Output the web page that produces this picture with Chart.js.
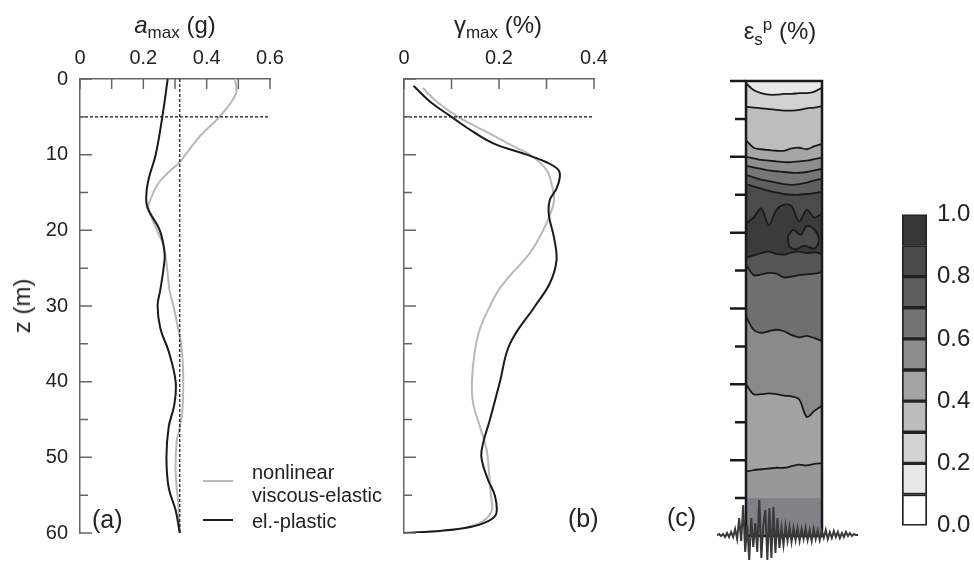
<!DOCTYPE html>
<html>
<head>
<meta charset="utf-8">
<script src="https://cdn.jsdelivr.net/npm/chart.js@4/dist/chart.umd.min.js"></script>
<style>
  body { margin: 0; background: #fff; }
  #wrap { position: relative; width: 974px; height: 561px; overflow: hidden;
          font-family: "Liberation Sans", Arial, sans-serif; color: #222; }
  #wrap canvas { position: absolute; }
  .txt { position: absolute; white-space: nowrap; line-height: 1; }
  .title { font-size: 24px; transform: translate(-50%, -50%); }
  .title sub, .title sup { font-size: 17px; }
  .lbl { font-size: 25px; transform: translateY(-50%); }
  .leg { font-size: 20px; transform: translateY(-50%); }
  .swatch { position: absolute; width: 30px; height: 0; border-top: 2px solid; }
</style>
</head>
<body>
<div id="wrap">
  <canvas id="chartA" width="300" height="561" style="left:0;top:0"></canvas>
  <canvas id="chartB" width="290" height="561" style="left:330px;top:0"></canvas>
  <canvas id="chartC" width="150" height="561" style="left:700px;top:0"></canvas>
  <canvas id="chartD" width="141" height="61" style="left:717px;top:500px"></canvas>
  <canvas id="chartE" width="94" height="360" style="left:880px;top:190px"></canvas>

  <div class="txt title" style="left:175px;top:27px"><i>a</i><sub>max</sub> (g)</div>
  <div class="txt title" style="left:498px;top:27px">γ<sub>max</sub> (%)</div>
  <div class="txt title" style="left:780px;top:32px">ε<sub>s</sub><sup>p</sup> (%)</div>
  <div class="txt title" style="left:22px;top:306px;transform:translate(-50%,-50%) rotate(-90deg)">z (m)</div>

  <div class="txt lbl" style="left:92px;top:519px">(a)</div>
  <div class="txt lbl" style="left:568px;top:518px">(b)</div>
  <div class="txt lbl" style="left:667px;top:517px">(c)</div>

  <div class="swatch" style="left:203px;top:480px;border-color:#b8b8b8"></div>
  <div class="swatch" style="left:203px;top:519px;border-color:#1a1a1a"></div>
  <div class="txt leg" style="left:252px;top:472px">nonlinear</div>
  <div class="txt leg" style="left:252px;top:495px">viscous-elastic</div>
  <div class="txt leg" style="left:252px;top:521px">el.-plastic</div>
</div>
<script>
// ---- depth axis ----
const depthTicks = [0, 5, 10, 15, 20, 25, 30, 35, 40, 45, 50, 55, 60];
const refDepth = 5;          // horizontal dashed line
const refAmax = 0.315;       // vertical dashed line in (a)

// ---- (a) peak acceleration ----
const amaxTicks = [0, 0.1, 0.2, 0.3, 0.4, 0.5, 0.6];
const depthNonlinearA = [0, 2, 5, 7.5, 10, 11, 12.5, 14, 16, 17, 20, 22, 25, 28, 30, 33, 36, 40, 44, 46, 48, 52, 56, 60];
const amaxNonlinear   = [0.49, 0.492, 0.44, 0.38, 0.333, 0.315, 0.275, 0.244, 0.222, 0.216, 0.243, 0.264, 0.275, 0.283, 0.295, 0.31, 0.322, 0.326, 0.323, 0.315, 0.305, 0.302, 0.31, 0.315];
const depthPlasticA = [0, 5, 10, 13, 15, 17, 20, 23, 25, 28, 30, 33, 36, 40, 43, 46, 50, 54, 57, 60];
const amaxPlastic   = [0.277, 0.26, 0.239, 0.218, 0.21, 0.213, 0.252, 0.267, 0.264, 0.253, 0.245, 0.254, 0.28, 0.302, 0.298, 0.28, 0.273, 0.28, 0.302, 0.315];

// ---- (b) peak shear strain ----
const gammaTicks = [0, 0.1, 0.2, 0.3, 0.4];
const depthNonlinearB = [1.2, 3, 5, 7, 9, 10, 12, 14, 16, 18, 20, 23, 26, 28, 30, 33, 36, 40, 43, 46, 49, 52, 55, 57, 58.5, 59.3];
const gammaNonlinear  = [0.04, 0.069, 0.114, 0.174, 0.234, 0.265, 0.30, 0.311, 0.316, 0.307, 0.293, 0.265, 0.223, 0.198, 0.181, 0.16, 0.149, 0.143, 0.146, 0.16, 0.174, 0.179, 0.183, 0.185, 0.165, 0.13];
const depthPlasticB = [0.9, 3, 5, 7, 8.5, 10, 11, 12, 13, 14.5, 16, 18, 21, 24, 27, 30, 35, 40, 45, 48, 50, 53, 55, 57.5, 58.5, 59.2, 59.7, 60];
const gammaPlastic  = [0.02, 0.055, 0.10, 0.146, 0.188, 0.258, 0.30, 0.325, 0.328, 0.321, 0.307, 0.305, 0.316, 0.321, 0.307, 0.276, 0.223, 0.202, 0.181, 0.167, 0.163, 0.177, 0.191, 0.194, 0.175, 0.14, 0.08, 0.0];

// ---- (c) plastic strain contours: depth of each contour across the column ----
const colX = [0, 0.1, 0.2, 0.3, 0.4, 0.5, 0.6, 0.7, 0.8, 0.9, 1];
const contourDepths = [
  [0, 0, 0, 0, 0, 0, 0, 0, 0, 0, 0],
  [0.3, 1.2, 1.6, 1.8, 1.8, 1.7, 1.7, 1.6, 1.6, 1.4, 0.9],
  [3.4, 3.5, 3.6, 3.7, 3.8, 3.9, 3.9, 3.8, 3.6, 3.5, 3.3],
  [7.8, 8.8, 9.0, 9.1, 9.2, 9.2, 8.9, 8.8, 9.0, 8.6, 8.3],
  [10.0, 10.2, 10.4, 10.5, 10.6, 10.7, 10.7, 10.6, 10.5, 10.3, 10.1],
  [11.2, 11.4, 11.6, 11.8, 11.9, 12.0, 12.1, 12.1, 12.0, 11.8, 11.6],
  [12.4, 12.7, 13.0, 13.2, 13.4, 13.6, 13.7, 13.6, 13.4, 13.1, 12.9],
  [13.6, 13.9, 14.2, 14.5, 14.7, 14.9, 15.0, 15.0, 14.9, 14.8, 14.6],
  [18.8, 18.0, 16.8, 19.0, 17.0, 16.3, 16.5, 18.5, 17.0, 18.0, 17.5],
  [23.3, 23.0, 22.7, 22.5, 22.8, 22.9, 22.6, 22.5, 22.7, 22.6, 22.8],
  [24.2, 25.6, 25.5, 25.3, 25.4, 25.9, 25.8, 25.6, 25.5, 25.4, 25.2],
  [31.0, 32.8, 33.2, 33.0, 32.8, 33.0, 33.5, 33.8, 33.6, 33.9, 34.3],
  [40.0, 41.3, 41.3, 41.2, 41.3, 41.5, 41.6, 42.0, 44.3, 43.5, 42.8],
  [51.5, 51.3, 51.2, 51.1, 51.0, 51.0, 50.8, 50.6, 50.7, 50.5, 50.4],
  [55, 55, 55, 55, 55, 55, 55, 55, 55, 55, 55],
  [60, 60, 60, 60, 60, 60, 60, 60, 60, 60, 60]
];
const bandColors = [null, '#e8e8e8', '#d2d2d2', '#bdbdbd', '#a6a6a6', '#8e8e8e', '#767676', '#5f5f5f',
  '#4b4b4b', '#3b3b3b', '#555555', '#6f6f6f', '#8a8a8a', '#a3a3a3', '#989898', '#7f8388'];
const drawnContour = [false, true, true, true, true, true, true, true, true, true, true, true, true, true, false, false];
const blobX = [0.55, 0.62, 0.72, 0.8, 0.9, 0.96, 0.9, 0.76, 0.66, 0.57, 0.55];
const blobZ = [20.5, 19.6, 20.3, 19.1, 19.6, 21.0, 22.1, 21.7, 22.2, 21.8, 20.5];

// ---- input motion trace under the column ----
const seismo = [0, 1, -1, 1, -2, 2, -2, 3, -2, 6, -4, 17, -6, 30, -17, 10, -25, 17, -12, 12, -17, 38, -23, 10,
  25, -25, 27, -23, 28, -18, 17, -13, 7, -10, 9, -6, 8, -7, 7, -5, 7, -6, 6, -4, 7, -5, 5, -6, 6, -4,
  5, -5, 4, -3, 5, -4, 3, -3, 4, -2, 3, -3, 2, -2, 3, -1, 2, -1, 1, 0, 0];

// ---- colour scale ----
const cbarLevels = [0, 0.1, 0.2, 0.3, 0.4, 0.5, 0.6, 0.7, 0.8, 0.9];
const cbarColors = ['#ffffff', '#e8e8e8', '#d2d2d2', '#bcbcbc', '#a4a4a4', '#8c8c8c', '#747474', '#5e5e5e', '#4a4a4a', '#383838'];

const FONT = '"Liberation Sans", Arial, sans-serif';
const pts = (xs, ys) => xs.map((v, i) => ({ x: v, y: ys[i] }));

// ticks drawn inside the plot frame, through the chart scales
const insideTicks = {
  id: 'insideTicks',
  afterDraw(chart, args, opts) {
    const { ctx, chartArea: { left, top }, scales: { x, y } } = chart;
    ctx.save();
    ctx.strokeStyle = '#666';
    ctx.lineWidth = 1.5;
    ctx.beginPath();
    opts.xTicks.forEach(v => {
      const px = x.getPixelForValue(v);
      ctx.moveTo(px, top); ctx.lineTo(px, top + 10);
    });
    depthTicks.forEach(d => {
      const py = y.getPixelForValue(d);
      ctx.moveTo(left, py); ctx.lineTo(left + (d % 10 === 0 ? 12 : 8), py);
    });
    ctx.stroke();
    ctx.restore();
  }
};

function profileChart(id, xMax, xTicks, gray, black, dashed, yWidth, showDepthLabels, rightPad) {
  return new Chart(document.getElementById(id), {
    type: 'scatter',
    data: {
      datasets: [
        { data: gray, showLine: true, borderColor: '#b8b8b8', borderWidth: 2, pointRadius: 0, tension: 0.4, order: 3 },
        { data: black, showLine: true, borderColor: '#1a1a1a', borderWidth: 2, pointRadius: 0, tension: 0.4, order: 1 },
        ...dashed.map(d => ({ data: d, showLine: true, borderColor: '#111', borderWidth: 1.2,
          borderDash: [3, 2], pointRadius: 0, order: 2 }))
      ]
    },
    options: {
      responsive: false, animation: false, events: [],
      layout: { padding: { top: 0, left: 0, right: rightPad, bottom: 28 } },
      plugins: { legend: { display: false }, tooltip: { enabled: false }, insideTicks: { xTicks } },
      scales: {
        x: {
          type: 'linear', position: 'top', min: 0, max: xMax,
          ticks: { stepSize: 0.2, padding: 9, color: '#222', font: { family: FONT, size: 20 } },
          grid: { drawOnChartArea: false, drawTicks: false },
          border: { color: '#666', width: 1.5 },
          afterFit: s => { s.height = 79; }
        },
        y: {
          type: 'linear', reverse: true, min: 0, max: 60,
          ticks: { display: showDepthLabels, stepSize: 10, padding: 12, color: '#222', font: { family: FONT, size: 20 } },
          grid: { drawOnChartArea: false, drawTicks: false },
          border: { color: '#666', width: 1.5 },
          afterFit: s => { s.width = yWidth; }
        }
      }
    },
    plugins: [insideTicks]
  });
}

profileChart('chartA', 0.6, amaxTicks,
  pts(amaxNonlinear, depthNonlinearA), pts(amaxPlastic, depthPlasticA),
  [[{ x: 0, y: refDepth }, { x: 0.6, y: refDepth }], [{ x: refAmax, y: 0 }, { x: refAmax, y: 60 }]],
  80, true, 30);

profileChart('chartB', 0.4, gammaTicks,
  pts(gammaNonlinear, depthNonlinearB), pts(gammaPlastic, depthPlasticB),
  [[{ x: 0, y: refDepth }, { x: 0.4, y: refDepth }]],
  74, false, 26);

// (c) contour column
const columnFrame = {
  id: 'columnFrame',
  afterDatasetsDraw(chart) {
    const { ctx, chartArea: { left, right, top, bottom }, scales: { y } } = chart;
    ctx.save();
    ctx.strokeStyle = '#1a1a1a';
    ctx.lineWidth = 2.5;
    ctx.strokeRect(left, top, right - left, bottom - top);
    ctx.beginPath();
    depthTicks.slice(0, -1).forEach(d => {
      const py = y.getPixelForValue(d);
      ctx.moveTo(left - (d % 10 === 0 ? 16 : 11), py); ctx.lineTo(left, py);
    });
    ctx.stroke();
    ctx.restore();
  }
};

const contourSets = contourDepths.map((zs, i) => ({
  data: pts(colX, zs), showLine: true, pointRadius: 0, tension: 0.3,
  borderColor: drawnContour[i] ? '#1a1a1a' : 'transparent', borderWidth: drawnContour[i] ? 1.8 : 0,
  backgroundColor: bandColors[i] || 'transparent', fill: i === 0 ? false : '-1', order: 5
}));
contourSets.push({
  data: pts(blobX, blobZ), showLine: true, pointRadius: 0, tension: 0.3,
  borderColor: '#1a1a1a', borderWidth: 1.8, backgroundColor: '#4b4b4b', fill: 'shape', order: 1
});

new Chart(document.getElementById('chartC'), {
  type: 'scatter',
  data: { datasets: contourSets },
  options: {
    responsive: false, animation: false, events: [],
    layout: { padding: { top: 81, left: 46, right: 28, bottom: 25 } },
    plugins: { legend: { display: false }, tooltip: { enabled: false }, filler: { drawTime: 'beforeDatasetsDraw' } },
    scales: {
      x: { type: 'linear', min: 0, max: 1, display: false },
      y: { type: 'linear', reverse: true, min: 0, max: 60, display: false }
    }
  },
  plugins: [columnFrame]
});

// input motion
new Chart(document.getElementById('chartD'), {
  type: 'line',
  data: {
    labels: seismo.map((_, i) => i),
    datasets: [{ data: seismo, borderColor: '#3a3a3a', borderWidth: 2, pointRadius: 0, tension: 0 }]
  },
  options: {
    responsive: false, animation: false, events: [],
    layout: { padding: 0 },
    plugins: { legend: { display: false }, tooltip: { enabled: false } },
    scales: {
      x: { display: false, offset: false },
      y: { display: false, min: -26, max: 35 }
    }
  }
});

// colour scale
new Chart(document.getElementById('chartE'), {
  type: 'bar',
  data: {
    labels: [''],
    datasets: cbarLevels.map((lv, i) => ({
      data: [0.1], backgroundColor: cbarColors[i], borderColor: '#222', borderWidth: 2,
      borderSkipped: false, barPercentage: 1, categoryPercentage: 1
    }))
  },
  options: {
    responsive: false, animation: false, events: [],
    layout: { padding: { top: 15, left: 22, right: 0, bottom: 18 } },
    plugins: { legend: { display: false }, tooltip: { enabled: false } },
    scales: {
      x: { stacked: true, display: false },
      y: {
        stacked: true, position: 'right', min: 0, max: 1,
        ticks: { stepSize: 0.2, padding: 10, color: '#222', font: { family: FONT, size: 24 },
                 callback: v => v.toFixed(1) },
        grid: { display: false, drawTicks: false },
        border: { display: false },
        afterFit: s => { s.width = 47; }
      }
    }
  }
});
</script>
</body>
</html>
